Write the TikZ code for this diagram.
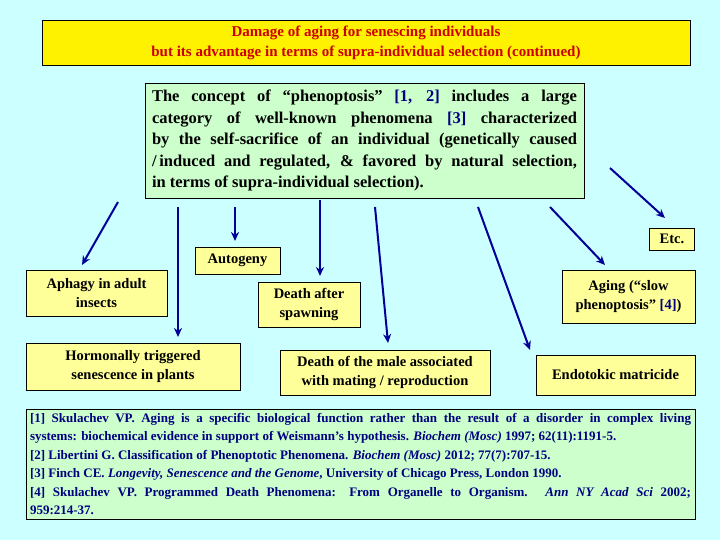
\documentclass[tikz,border=0pt]{standalone}
\usepackage{fontspec}
\setmainfont{Liberation Serif}
\begin{document}
\begin{tikzpicture}[x=1pt,y=-1pt,
  bx/.style={draw=black,line width=0.8pt,fill=yb,font=\bfseries\fontsize{14.5}{19}\selectfont,align=center,inner sep=2pt},
  ar/.style={draw=ab,line width=2pt,-{Stealth[length=9pt,width=8pt]}}]
\usetikzlibrary{arrows.meta}
\definecolor{bg}{HTML}{CCFFFF}
\definecolor{yb}{HTML}{FFFF99}
\definecolor{gb}{HTML}{CCFFCC}
\definecolor{ab}{HTML}{000099}
\definecolor{tr}{HTML}{CC0000}
\definecolor{rb}{HTML}{000080}
\fill[bg] (0,0) rectangle (720,540);
\useasboundingbox (0,0) rectangle (720,540);
\node[draw=black,line width=0.8pt,fill=yellow,minimum width=648pt,minimum height=45pt,align=center,text=tr,font=\bfseries\fontsize{15}{20}\selectfont] (title) at (366,42.5) {Damage of aging for senescing individuals\\but its advantage in terms of supra-individual selection (continued)};
\node[draw=black,line width=0.8pt,fill=gb,text width=425pt,align=justify,inner sep=7pt,font=\bfseries\fontsize{16.5}{21.5}\selectfont] (c) at (364.5,140.5) {The concept of “phenoptosis” \textcolor{rb}{[1, 2]} includes a large\linebreak category of well-known phenomena \textcolor{rb}{[3]} characterized\linebreak by the self-sacrifice of an individual (genetically caused\linebreak /\,induced and regulated, \& favored by natural selection,\linebreak in terms of supra-individual selection).};
\node[bx,minimum width=45pt,minimum height=22pt] (etc) at (672,239) {Etc.};
\node[bx,minimum width=85pt,minimum height=27pt] (auto) at (237.5,260.5) {Autogeny};
\node[bx,minimum width=141pt,minimum height=46pt] (aph) at (96.5,293) {Aphagy in adult\\insects};
\node[bx,minimum width=102pt,minimum height=45pt] (spawn) at (309,304.5) {Death after\\spawning};
\node[bx,minimum width=133pt,minimum height=53pt] (aging) at (628.5,296.5) {Aging (“slow\\phenoptosis” \textcolor{rb}{[4]})};
\node[bx,minimum width=214pt,minimum height=47pt] (horm) at (133,366.5) {Hormonally triggered\\senescence in plants};
\node[bx,minimum width=210pt,minimum height=45pt] (male) at (385,372.5) {Death of the male associated\\with mating / reproduction};
\node[bx,minimum width=159pt,minimum height=40pt] (endo) at (615.5,375) {Endotokic matricide};
\node[draw=black,line width=0.8pt,fill=gb,text width=661pt,align=justify,inner sep=4pt,text=rb,font=\bfseries\fontsize{13}{18.5}\selectfont] (refs) at (360.5,464) {[1] Skulachev VP. Aging is a specific biological function rather than the result of a disorder in complex living\linebreak systems: biochemical evidence in support of Weismann's hypothesis. \textit{Biochem (Mosc)} 1997; 62(11):1191-5.\\
\mbox{[2]} Libertini G. Classification of Phenoptotic Phenomena. \textit{Biochem (Mosc)} 2012; 77(7):707-15.\\
\mbox{[3]} Finch CE. \textit{Longevity, Senescence and the Genome}, University of Chicago Press, London 1990.\\
\mbox{[4]} Skulachev VP. Programmed Death Phenomena: From Organelle to Organism. \textit{Ann NY Acad Sci} 2002;\linebreak 959:214-37.};
\coordinate (s1) at (118,202);
\coordinate (s2) at (178,207);
\coordinate (s3) at (235,207);
\coordinate (s4) at (320,200);
\coordinate (s5) at (375,207);
\coordinate (s6) at (478,207);
\coordinate (s7) at (550,207);
\coordinate (s8) at (610,168);
\draw[ar] (s1) -- (82,265);
\draw[ar] (s2) -- (178,337);
\draw[ar] (s3) -- (235,241);
\draw[ar] (s4) -- (320,276);
\draw[ar] (s5) -- (388,343);
\draw[ar] (s6) -- (530,350);
\draw[ar] (s7) -- (605,265);
\draw[ar] (s8) -- (665,218);
\end{tikzpicture}
\end{document}
